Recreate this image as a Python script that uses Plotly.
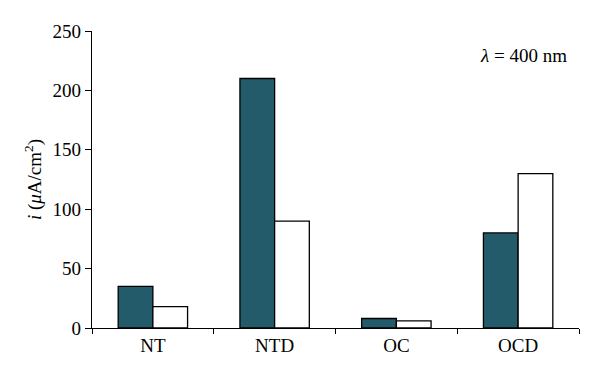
import plotly.graph_objects as go

categories = ["NT", "NTD", "OC", "OCD"]
series_dark = [35, 210, 8, 80]
series_white = [18, 90, 6, 130]
y_ticks = [0, 50, 100, 150, 200, 250]

FONT = "Liberation Serif"

fig = go.Figure()
fig.add_trace(go.Bar(x=categories, y=series_dark, marker=dict(color="#245B6A", line=dict(color="black", width=1.3)), showlegend=False))
fig.add_trace(go.Bar(x=categories, y=series_white, marker=dict(color="white", line=dict(color="black", width=1.3)), showlegend=False))

# page body has an 8px default margin; figure sized to compensate
fig.update_layout(
    width=592, height=375,
    margin=dict(l=84, r=21, t=23, b=55),
    barmode="group", bargap=0.43, bargroupgap=0,
    plot_bgcolor="white", paper_bgcolor="white",
    font=dict(family=FONT, size=19, color="black"),
    xaxis=dict(showline=True, linecolor="black", linewidth=1.3, ticks="outside", tickson="boundaries",
               ticklen=5, tickcolor="black", tickwidth=1.3, showgrid=False, tickfont=dict(size=19)),
    yaxis=dict(range=[0, 250], tickvals=y_ticks, showline=True, linecolor="black", linewidth=1.3,
               ticks="outside", ticklen=6, tickcolor="black", tickwidth=1.3, showgrid=False, zeroline=False,
               tickfont=dict(size=19),
               title=dict(text="<i>i</i> (<i>μ</i>A/cm<sup>2</sup>)", font=dict(size=19), standoff=5)),
    annotations=[dict(text="<i>λ</i> = 400 nm", x=0.979, y=0.919, xref="paper", yref="paper", xanchor="right", yanchor="middle",
                      showarrow=False, font=dict(size=19))],
)

fig.write_html("out.html")
